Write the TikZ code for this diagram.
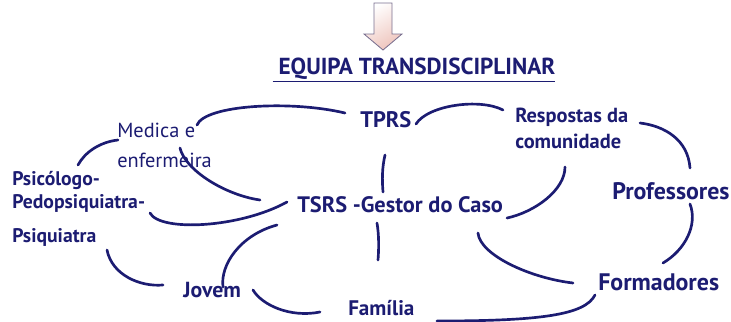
\documentclass[tikz,border=0pt]{standalone}
\usepackage{fontspec}
\setmainfont{PT Sans}
\usetikzlibrary{positioning,arrows.meta}
\definecolor{navy}{HTML}{1C1C72}
\definecolor{arrowedge}{HTML}{7A7090}
\definecolor{arrowtint}{HTML}{EEC4BC}

\begin{document}
\begin{tikzpicture}[
        x=0.025cm, y=-0.025cm,
        link/.style={navy, line width=1.9pt, line cap=round}, % connector style
        label/.style={text=navy, font=\bfseries, inner sep=0pt, anchor=west}, % text style
        plain/.style={text=navy, inner sep=0pt, anchor=west, font=\fontsize{14.5}{16}\selectfont}
    ]
        \useasboundingbox (0,0) rectangle (731,322);

        % Arrow at the top
        \draw [arrowedge, line width=0.6pt, top color=white, bottom color=arrowtint, shading angle=30]
            (374,3) -- (392,3) -- (392,34) -- (402,34) -- (383,50) -- (364,34) -- (374,34) -- cycle;

        % Title
        \node (title) [label, anchor=center, font=\bfseries\fontsize{16.5}{19}\selectfont] at (414,70) {\underline{\ EQUIPA TRANSDISCIPLINAR}};

        % Nodes
        \node (tprs) [label, font=\bfseries\fontsize{16}{18}\selectfont] at (360,120) {TPRS};
        \node (resp) [label, align=left, font=\bfseries\fontsize{14.5}{18.5}\selectfont] at (515,128) {Respostas da\\comunidade};
        \node (medica) [plain] at (117,130) {Medica e};
        \node (enferm) [plain] at (117,160) {enfermeira};
        \node (psic) [label, font=\bfseries\fontsize{14}{16}\selectfont] at (12,180) {Psicólogo-};
        \node (pedo) [label, font=\bfseries\fontsize{14}{16}\selectfont] at (12,203) {Pedopsiquiatra-};
        \node (psiq) [label, font=\bfseries\fontsize{14}{16}\selectfont] at (12,237) {Psiquiatra};
        \node (tsrs) [label, font=\bfseries\fontsize{15.9}{18}\selectfont] at (297,205) {TSRS -Gestor do Caso};
        \node (prof) [label, font=\bfseries\fontsize{17}{19}\selectfont] at (612,191) {Professores};
        \node (form) [label, font=\bfseries\fontsize{17}{19}\selectfont] at (598,282) {Formadores};
        \node (jovem) [label, font=\bfseries\fontsize{15.5}{17}\selectfont] at (183,290) {Jovem};
        \node (familia) [label, font=\bfseries\fontsize{15}{17}\selectfont] at (348,308) {Família};

        % Upper links
        \draw [link] ([shift={(80,-5)}]medica.west) .. controls (205,105) and (290,100) .. ([shift={(-15,-7)}]tprs.west);
        \draw [link] ([shift={(56,4)}]tprs.west) .. controls (428,105) and (480,98) .. ([shift={(-12,-18)}]resp.west);
        \draw [link] ([shift={(125,-5)}]resp.west) .. controls (665,126) and (688,140) .. ([shift={(78,-23)}]prof.west);
        \draw [link] ([shift={(78,13)}]prof.west) .. controls (698,225) and (685,250) .. ([shift={(65,-19)}]form.west);

        % Links around the case manager
        \draw [link] ([shift={(25,35)}]tprs.west) .. controls (382,168) and (382,180) .. ([shift={(86,-13)}]tsrs.west);
        \draw [link] ([shift={(210,13)}]tsrs.west) .. controls (535,212) and (565,190) .. ([shift={(50,39)}]resp.west);
        \draw [link] ([shift={(80,18)}]tsrs.west) .. controls (379,235) and (379,248) .. ([shift={(30,-48)}]familia.west);
        \draw [link] ([shift={(181,28)}]tsrs.west) .. controls (480,255) and (530,278) .. ([shift={(-25,1)}]form.west);
        \draw [link] ([shift={(63,-12)}]enferm.west) .. controls (185,170) and (225,195) .. ([shift={(-37,-5)}]tsrs.west);
        \draw [link] ([shift={(-20,20)}]tsrs.west) .. controls (240,235) and (220,265) .. ([shift={(40,-3)}]jovem.west);

        % Left and bottom links
        \draw [link] ([shift={(66,-15)}]psic.west) .. controls (85,152) and (100,142) .. ([shift={(1,10)}]medica.west);
        \draw [link] ([shift={(138,10)}]pedo.west) .. controls (160,232) and (240,228) .. ([shift={(-10,-3)}]tsrs.west);
        \draw [link] ([shift={(95,13)}]psiq.west) .. controls (112,275) and (140,287) .. ([shift={(-20,-5)}]jovem.west);
        \draw [link] ([shift={(70,0)}]jovem.west) .. controls (262,305) and (290,318) .. ([shift={(-28,4)}]familia.west);
        \draw [link] ([shift={(-3,13)}]form.west) .. controls (585,315) and (540,321) .. ([shift={(89,13)}]familia.west);

    \end{tikzpicture}
\end{document}
